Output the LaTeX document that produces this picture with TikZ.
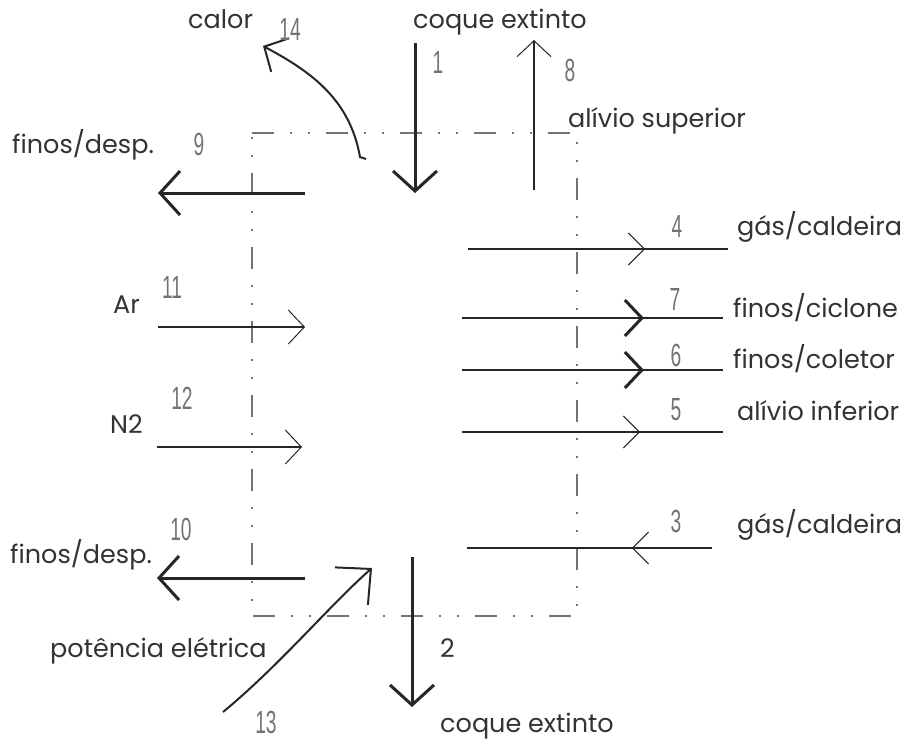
\documentclass[tikz,border=0pt]{standalone}
\usepackage{fontspec}
\setmainfont{Poppins}
\newfontfamily\numfont{Liberation Sans}
\usetikzlibrary{arrows.meta,decorations.markings}
\begin{document}
\begin{tikzpicture}[x=1pt,y=-1pt,
  lbl/.style={font=\fontsize{25.5}{28}\selectfont, text=black!80, inner sep=0pt, anchor=base west},
  num/.style={font=\numfont\fontsize{32}{34}\selectfont, text=black!55, inner sep=0pt, xscale=0.6},
  boxline/.style={draw=black!55, line width=1.1pt, dash pattern=on 22pt off 16pt on 2pt off 16pt on 2pt off 16pt},
  heavy/.style={line width=3pt, draw=black!85, -{Straight Barb[length=20pt,width=44pt,line width=3pt]}},
  light/.style={line width=1.6pt, draw=black!85, -{Straight Barb[length=16pt,width=34pt,line width=1pt]}},
  flowline/.style={line width=2.4pt, draw=black!85},
  midthin/.style={postaction={decorate}, decoration={markings, mark=at position #1 with {\arrow[black!85]{Straight Barb[length=16pt,width=32pt,line width=1pt]}}}},
  midthick/.style={postaction={decorate}, decoration={markings, mark=at position #1 with {\arrow[black!85]{Straight Barb[length=17pt,width=36pt,line width=3pt]}}}},
  midthinrev/.style={postaction={decorate}, decoration={markings, mark=at position #1 with {\arrowreversed[black!85]{Straight Barb[length=16pt,width=32pt,line width=1pt]}}}}
]
\useasboundingbox (0,0) rectangle (913,742);
\fill[white] (0,0) rectangle (913,742);

% control volume
\coordinate (bTL) at (252,133);
\coordinate (bTR) at (577,133);
\coordinate (bBR) at (577,616);
\coordinate (bBL) at (252,616);
\draw[boxline] (bTL) -- (bTR) -- (bBR) -- (bBL) -- cycle;

% stream end points
\coordinate (s1a) at (415,43);  \coordinate (s1b) at (415,193);
\coordinate (s8a) at (534,190); \coordinate (s8b) at (534,40);
\coordinate (s9a) at (305,193); \coordinate (s9b) at (158,193);
\coordinate (s14a) at (360,157); \coordinate (s14b) at (263,46);
\coordinate (s4a) at (468,249); \coordinate (s4b) at (728,249);
\coordinate (s7a) at (462,318); \coordinate (s7b) at (723,318);
\coordinate (s6a) at (462,370); \coordinate (s6b) at (723,370);
\coordinate (s5a) at (462,432); \coordinate (s5b) at (723,432);
\coordinate (s3a) at (467,548); \coordinate (s3b) at (712,548);
\coordinate (s11a) at (158,327); \coordinate (s11b) at (305,327);
\coordinate (s12a) at (157,447); \coordinate (s12b) at (302,447);
\coordinate (s10a) at (305,578); \coordinate (s10b) at (157,578);
\coordinate (s2a) at (412,557); \coordinate (s2b) at (412,707);
\coordinate (s13a) at (223,712); \coordinate (s13b) at (372,568);

% streams
\draw[heavy] (s1a) -- (s1b);
\draw[light] (s8a) -- (s8b);
\draw[heavy] (s9a) -- (s9b);
\draw[heavy] (s10a) -- (s10b);
\draw[heavy] (s2a) -- (s2b);
\draw[light] (s11a) -- (s11b);
\draw[light] (s12a) -- (s12b);
\draw[flowline, midthin=0.681] (s4a) -- (s4b);
\draw[flowline, midthick=0.697] (s7a) -- (s7b);
\draw[flowline, midthick=0.697] (s6a) -- (s6b);
\draw[flowline, midthin=0.682] (s5a) -- (s5b);
\draw[flowline, midthinrev=0.673] (s3a) -- (s3b);
\draw[line width=2pt, draw=black!85, -{Straight Barb[length=18pt,width=38pt,line width=2pt]}]
  (366,159) -- (s14a) .. controls (350,100) and (312,72) .. (s14b);
\draw[line width=2pt, draw=black!85, -{Straight Barb[length=26pt,width=50pt,line width=2pt]}]
  (s13a) .. controls (280,665) and (330,605) .. (s13b);

% labels
\node[lbl] (tcalor) at (188,28) {calor};
\node[num] (n14) at (290,29) {14};
\node[lbl] (tcoq1) at (413,28) {coque extinto};
\node[num] (n1) at (438,62) {1};
\node[num] (n8) at (570,70) {8};
\node[lbl] (talsup) at (568,127) {alívio superior};
\node[lbl] (tfd1) at (12,153) {finos/desp.};
\node[num] (n9) at (199,144) {9};
\node[num] (n4) at (677,226) {4};
\node[lbl] (tgc4) at (737,235) {gás/caldeira};
\node[num] (n11) at (172,287) {11};
\node[lbl] (tar) at (113,313) {Ar};
\node[num] (n7) at (675,299) {7};
\node[lbl] (tfc) at (733,317) {finos/ciclone};
\node[num] (n6) at (676,355) {6};
\node[lbl] (tfcol) at (733,368) {finos/coletor};
\node[num] (n12) at (182,398) {12};
\node[lbl] (tn2) at (110,433) {N2};
\node[num] (n5) at (676,410) {5};
\node[lbl] (talinf) at (737,420) {alívio inferior};
\node[num] (n10) at (181,529) {10};
\node[lbl] (tfd2) at (10,563) {finos/desp.};
\node[num] (n3) at (676,521) {3};
\node[lbl] (tgc3) at (737,533) {gás/caldeira};
\node[lbl] (tpot) at (50,657) {potência elétrica};
\node[lbl] (n2) at (440,657) {2};
\node[num] (n13) at (266,722) {13};
\node[lbl] (tcoq2) at (440,732) {coque extinto};
\end{tikzpicture}
\end{document}
